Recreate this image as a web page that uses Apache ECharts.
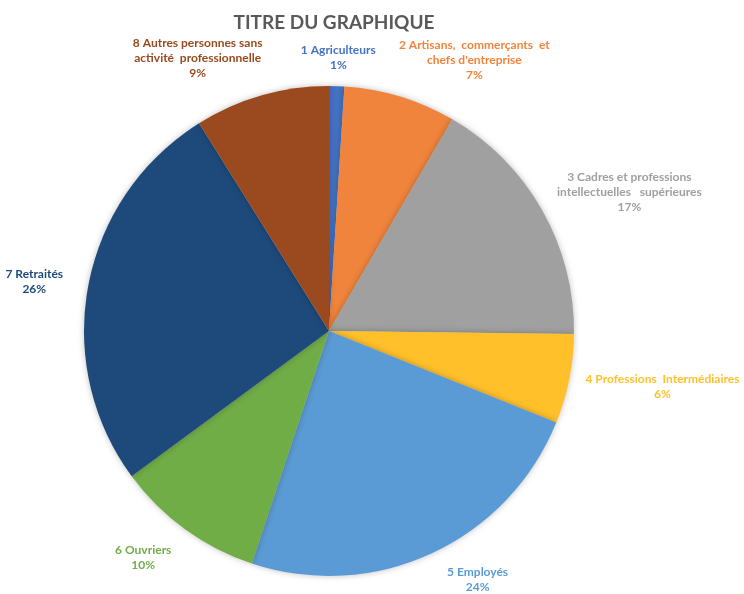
<!DOCTYPE html>
<html>
<head>
<meta charset="utf-8">
<script src="https://cdn.jsdelivr.net/npm/echarts@6/dist/echarts.min.js"></script>
<style>
  html, body { margin: 0; padding: 0; background: #fff; }
  #chart { width: 744px; height: 594px; }
</style>
</head>
<body>
<div id="chart"></div>
<script>
// categories (line breaks as in the original labels)
const categories = [
  "1 Agriculteurs",
  "2 Artisans,  commerçants  et\nchefs d'entreprise",
  "3 Cadres et professions\nintellectuelles   supérieures",
  "4 Professions  Intermédiaires",
  "5 Employés",
  "6 Ouvriers",
  "7 Retraités",
  "8 Autres personnes sans\nactivité  professionnelle"
];
// shares (%)
const values = [1.0, 7.4, 16.8, 5.9, 24.0, 9.8, 26.2, 8.9];
const colors = ["#4472C4", "#F0843C", "#A0A0A0", "#FFC02A", "#5B9BD5", "#70AD47", "#1E4A7B", "#9A4A1E"];
// small nudges of the labels (Excel moved some aside)
const labelNudgeX = [0, 48, 12, 4, 27, -17, -12, -42];
const labelNudgeY = [0, -2, 0, 2, 0, 5, 2, -2];

const cx = 329, cy = 331, R = 245;
const total = values.reduce((a, b) => a + b, 0);

let myChart = echarts.init(document.getElementById("chart"));
const option = {
  title: {
    text: "TITRE DU GRAPHIQUE",
    left: cx,
    textAlign: "center",
    top: 8,
    textStyle: {
      fontFamily: "Lato",
      fontWeight: "bold",
      fontSize: 19,
      color: "#595959"
    }
  },
  color: colors,
  series: [
    {
      type: "pie",
      center: [cx, cy],
      radius: R,
      startAngle: 90,
      percentPrecision: 0,
      avoidLabelOverlap: false,
      itemStyle: {
        shadowBlur: 6,
        shadowColor: "rgba(0,0,0,0.25)"
      },
      label: {
        show: true,
        position: "outside",
        formatter: "{b}\n{d}%",
        fontFamily: "Lato",
        fontWeight: "bold",
        fontSize: 12,
        lineHeight: 15,
        align: "center",
        overflow: "none"
      },
      labelLine: { show: false },
      labelLayout: function (params) {
        const i = params.dataIndex;
        let before = 0;
        for (let k = 0; k < i; k++) before += values[k];
        const a = ((before + values[i] / 2) / total) * 2 * Math.PI;
        const s = Math.sin(a), c = Math.cos(a);
        const w = params.labelRect.width, h = params.labelRect.height;
        const ax = cx + (R + 14) * s, ay = cy - (R + 14) * c;
        return {
          x: ax + (w / 2) * s + labelNudgeX[i],
          y: ay - (h / 2) * c + labelNudgeY[i],
          align: "center",
          verticalAlign: "middle"
        };
      },
      data: categories.map((name, i) => ({
        name: name,
        value: values[i],
        label: { color: colors[i] }
      }))
    }
  ]
};
myChart.setOption(option);
</script>
</body>
</html>
